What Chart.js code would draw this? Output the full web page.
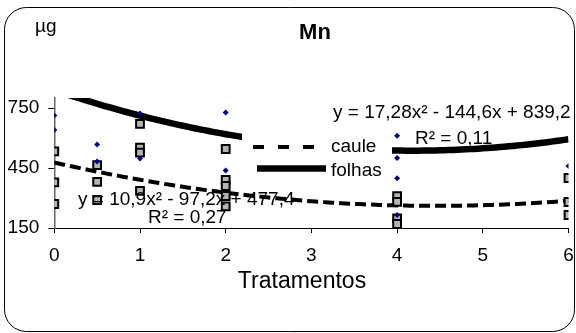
<!DOCTYPE html>
<html>
<head>
  <title>Mn</title>
  <script src="https://cdn.jsdelivr.net/npm/chart.js"></script>
  <style>
    body { margin: 0; background: #fff; }
  </style>
</head>
<body>
  <canvas id="myChart" width="576" height="333"></canvas>

  <script>
    // Mn content per treatment (µg)
    const folhasX = [0, 0, 0.5, 0.5, 1, 1, 2, 2, 4, 4, 4, 4, 6];
    const folhasY = [713, 640, 567, 483, 723, 498, 727, 437, 611, 500, 399, 215, 460];
    const cauleX = [0, 0, 0, 0.5, 0.5, 0.5, 1, 1, 1, 1, 2, 2, 2, 2, 2, 4, 4, 4, 4, 6, 6, 6];
    const cauleY = [533, 378, 270, 464, 381, 290, 671, 552, 527, 336, 545, 390, 360, 310, 258, 309, 281, 198, 170, 400, 280, 215];

    // quadratic trend lines: a*x^2 + b*x + c
    const folhasFit = [17.28, -144.6, 839.2];
    const cauleFit = [10.9, -97.2, 477.4];
    const folhasR2 = '0,11';
    const cauleR2 = '0,27';

    const yTicks = [150, 450, 750];
    const font = 'Liberation Sans, Arial, sans-serif';

    function curve(fit) {
      const pts = [];
      for (let i = 0; i <= 120; i++) {
        const x = i * 0.05;
        pts.push({ x: x, y: fit[0] * x * x + fit[1] * x + fit[2] });
      }
      return pts;
    }

    function num(v) {
      return String(Math.abs(v)).replace('.', ',');
    }

    function equation(fit) {
      return 'y = ' + num(fit[0]) + 'x\u00B2 ' + (fit[1] < 0 ? '- ' : '+ ') + num(fit[1]) +
        'x ' + (fit[2] < 0 ? '- ' : '+ ') + num(fit[2]);
    }

    function pairs(xs, ys) {
      return xs.map((x, i) => ({ x: x, y: ys[i] }));
    }

    // frame, legend and equation labels
    const decor = {
      id: 'decor',
      beforeDraw(chart) {
        const ctx = chart.ctx;
        ctx.save();
        ctx.fillStyle = '#fff';
        ctx.fillRect(0, 0, chart.width, chart.height);
        const x0 = 4.5, y0 = 7.5, x1 = 574.5, y1 = 331.5, r = 22;
        ctx.beginPath();
        ctx.moveTo(x0 + r, y0);
        ctx.lineTo(x1 - r, y0);
        ctx.arcTo(x1, y0, x1, y0 + r, r);
        ctx.lineTo(x1, y1 - r);
        ctx.arcTo(x1, y1, x1 - r, y1, r);
        ctx.lineTo(x0 + r, y1);
        ctx.arcTo(x0, y1, x0, y1 - r, r);
        ctx.lineTo(x0, y0 + r);
        ctx.arcTo(x0, y0, x0 + r, y0, r);
        ctx.closePath();
        ctx.strokeStyle = '#000';
        ctx.lineWidth = 1;
        ctx.stroke();
        ctx.restore();
      },
      afterDatasetsDraw(chart) {
        const ctx = chart.ctx;
        const ds = chart.data.datasets;
        ctx.save();

        // legend box
        ctx.fillStyle = '#fff';
        ctx.fillRect(242, 128, 150, 52);
        ctx.strokeStyle = ds[2].borderColor;
        ctx.lineWidth = ds[2].borderWidth;
        ctx.setLineDash([11, 14]);
        ctx.beginPath();
        ctx.moveTo(253, 147);
        ctx.lineTo(322, 147);
        ctx.stroke();
        ctx.setLineDash([]);
        ctx.strokeStyle = ds[3].borderColor;
        ctx.lineWidth = ds[3].borderWidth;
        ctx.beginPath();
        ctx.moveTo(257, 168.5);
        ctx.lineTo(326, 168.5);
        ctx.stroke();

        ctx.fillStyle = '#000';
        ctx.font = '19px ' + font;
        ctx.textBaseline = 'middle';
        ctx.textAlign = 'left';
        ctx.fillText(ds[2].label, 331, 147);
        ctx.fillText(ds[3].label, 331, 171);

        // trend equations
        ctx.fillText(equation(folhasFit), 333, 113);
        ctx.fillText('R\u00B2 = ' + folhasR2, 415, 139);
        ctx.fillText(equation(cauleFit), 78, 200);
        ctx.fillText('R\u00B2 = ' + cauleR2, 148, 218);

        // unit, title and axis name
        ctx.fillText('\u00B5g', 35, 27);
        ctx.textAlign = 'center';
        ctx.font = '23px ' + font;
        ctx.fillText('Tratamentos', 302, 282);
        ctx.font = 'bold 22px ' + font;
        ctx.fillText('Mn', 315, 33);
        ctx.restore();
      }
    };

    const ctx = document.getElementById('myChart').getContext('2d');
    const myChart = new Chart(ctx, {
      type: 'scatter',
      data: {
        datasets: [
          {
            label: 'folhas',
            data: pairs(folhasX, folhasY),
            pointStyle: 'rectRot',
            pointRadius: 3,
            backgroundColor: '#000080',
            borderColor: '#000080',
            borderWidth: 0,
            order: 0
          },
          {
            label: 'caule',
            data: pairs(cauleX, cauleY),
            pointStyle: 'rect',
            pointRadius: 5.5,
            backgroundColor: '#b4b4b4',
            borderColor: '#000',
            borderWidth: 2,
            order: 0
          },
          {
            label: 'caule',
            data: curve(cauleFit),
            showLine: true,
            pointRadius: 0,
            borderColor: '#000',
            borderWidth: 4,
            borderDash: [11, 5],
            order: 1
          },
          {
            label: 'folhas',
            data: curve(folhasFit),
            showLine: true,
            pointRadius: 0,
            borderColor: '#000',
            borderWidth: 6.5,
            order: 1
          }
        ]
      },
      options: {
        responsive: false,
        animation: false,
        layout: { padding: { left: 0, right: 5.5, top: 98, bottom: 0 } },
        plugins: {
          legend: { display: false },
          title: { display: false },
          tooltip: { enabled: false }
        },
        scales: {
          x: {
            type: 'linear',
            min: 0,
            max: 6,
            ticks: {
              stepSize: 1,
              color: '#000',
              padding: 11,
              font: { family: font, size: 19 }
            },
            grid: { drawOnChartArea: false, tickLength: 5, color: '#000' },
            border: { color: '#000', width: 1 },
            afterFit(scale) {
              scale.height = 105;
              scale.paddingLeft = 0;
              scale.paddingRight = 0;
            }
          },
          y: {
            min: 150,
            max: 800,
            afterBuildTicks(scale) {
              scale.ticks = yTicks.map(v => ({ value: v }));
            },
            ticks: {
              color: '#000',
              padding: 9,
              font: { family: font, size: 19 }
            },
            grid: { drawOnChartArea: false, tickLength: 6, color: '#000' },
            border: { color: '#666', width: 1.5 },
            afterFit(scale) { scale.width = 54.3; }
          }
        }
      },
      plugins: [decor]
    });
  </script>
</body>
</html>
